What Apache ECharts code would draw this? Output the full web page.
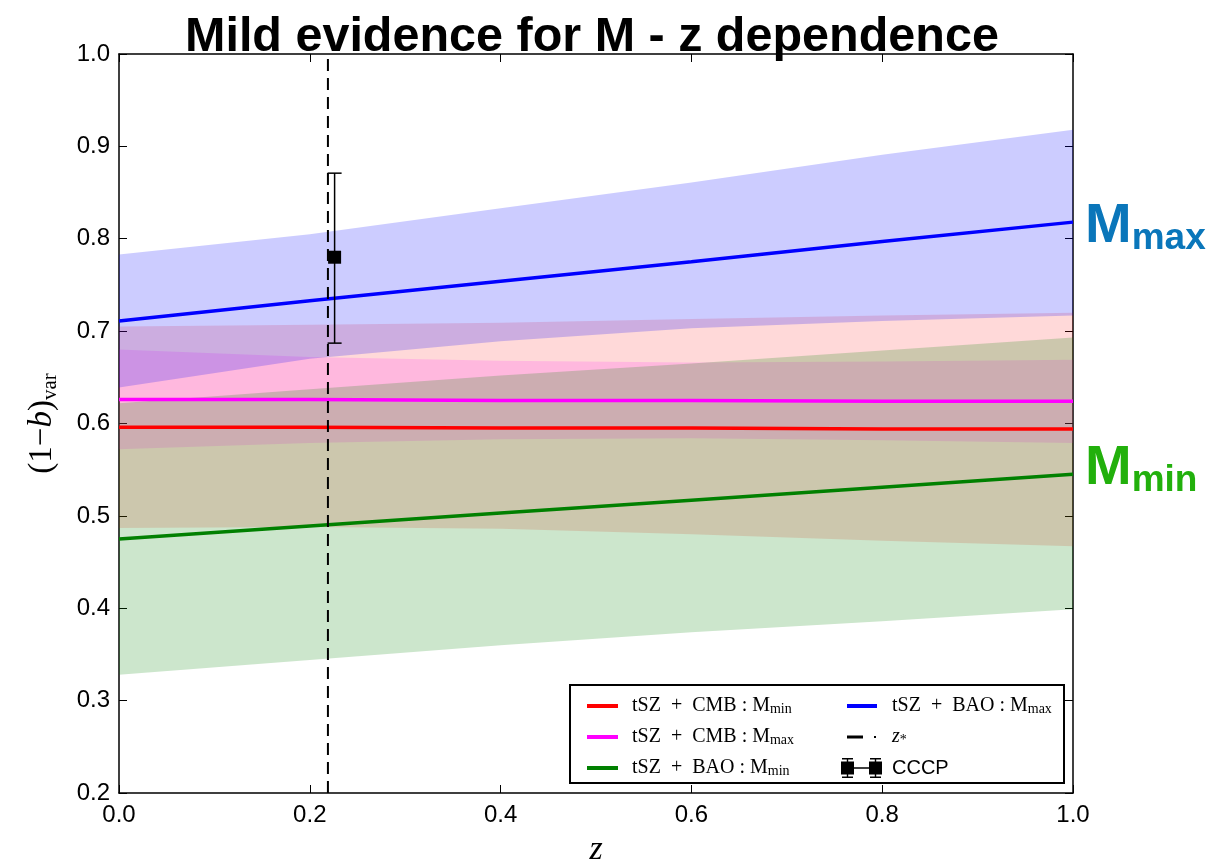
<!DOCTYPE html>
<html>
<head>
<meta charset="utf-8">
<script src="https://cdn.jsdelivr.net/npm/echarts@6/dist/echarts.min.js"></script>
<style>html,body{margin:0;padding:0;background:#fff}#c{width:1230px;height:864px}</style>
</head>
<body>
<div id="c"></div>
<script>
// ---- data ----
const zs = [0, 0.2, 0.4, 0.6, 0.8, 1.0];
// central lines
const redLine   = [0.596, 0.596, 0.595, 0.595, 0.594, 0.594];
const magLine   = [0.626, 0.626, 0.625, 0.625, 0.624, 0.624];
const greenLine = [0.475, 0.489, 0.503, 0.517, 0.531, 0.545];
const blueLine  = [0.711, 0.733, 0.754, 0.775, 0.797, 0.818];
// bands
const redHi   = [0.705, 0.707, 0.709, 0.713, 0.717, 0.720];
const redLo   = [0.487, 0.488, 0.486, 0.480, 0.473, 0.467];
const magHi   = [0.680, 0.672, 0.668, 0.666, 0.667, 0.669];
const magLo   = [0.572, 0.579, 0.583, 0.584, 0.582, 0.579];
const greenHi = [0.622, 0.637, 0.652, 0.665, 0.679, 0.693];
const greenLo = [0.328, 0.344, 0.360, 0.374, 0.386, 0.399];
const blueHi  = [0.783, 0.805, 0.833, 0.861, 0.891, 0.918];
const blueLo  = [0.639, 0.670, 0.689, 0.703, 0.711, 0.717];
// z* marker and CCCP point
const zStar = 0.219;
const cccpZ = [0.226];
const cccpV = [0.780];
const cccpLo = [0.687];
const cccpHi = [0.871];
const xTicks = [0, 0.2, 0.4, 0.6, 0.8, 1.0];
const yTicks = [0.2, 0.3, 0.4, 0.5, 0.6, 0.7, 0.8, 0.9, 1.0];

const labels = {
  r: '{sp| }{t|tSZ  +  CMB : M}{s|min}',
  m: '{sp| }{t|tSZ  +  CMB : M}{s|max}',
  g: '{sp| }{t|tSZ  +  BAO : M}{s|min}',
  b: '{sp| }{t|tSZ  +  BAO : M}{s|max}',
  zs: '{sp| }{i|z}{s2|*}',
  cccp: '{sp| }{c|CCCP}'
};

function pairs(ys){ return zs.map((z,i)=>[z, ys[i]]); }

function band(name, hi, lo, fill){
  return {
    type:'custom', name:name, silent:true, z:1,
    data:[[0.5,0.5]],
    renderItem:function(params, api){
      const pts=[];
      for(let i=0;i<zs.length;i++) pts.push(api.coord([zs[i], hi[i]]));
      for(let i=zs.length-1;i>=0;i--) pts.push(api.coord([zs[i], lo[i]]));
      return {type:'polygon', shape:{points:pts}, style:{fill:fill}};
    }
  };
}
function line(name, ys, color, w){
  return {type:'line', name:name, data:pairs(ys), symbol:'none', z:3,
    color:color, lineStyle:{color:color, width:w}, silent:true};
}

const richLegend = {
  sp:{width:9},
  t:{fontFamily:'Liberation Serif', fontSize:20, color:'#000', lineHeight:20},
  s:{fontFamily:'Liberation Serif', fontSize:14, color:'#000', verticalAlign:'bottom'},
  i:{fontFamily:'Liberation Serif', fontStyle:'italic', fontSize:20, color:'#000', lineHeight:20},
  s2:{fontFamily:'Liberation Serif', fontSize:14, color:'#000', verticalAlign:'bottom'},
  c:{fontFamily:'Liberation Sans', fontSize:20, color:'#000', lineHeight:20}
};

const axisCommon = {
  type:'value', min:0, max:1, interval:0.2,
  axisLine:{show:true, onZero:false, lineStyle:{color:'#000', width:1.5}},
  axisTick:{show:true, inside:true, length:8, lineStyle:{color:'#000', width:1}},
  splitLine:{show:false}
};
const yCommon = {
  type:'value', min:0.2, max:1.0, interval:0.1,
  axisLine:{show:true, onZero:false, lineStyle:{color:'#000', width:1.5}},
  axisTick:{show:true, inside:true, length:8, lineStyle:{color:'#000', width:1}},
  splitLine:{show:false}
};

const chart = echarts.init(document.getElementById('c'), null, {renderer:'canvas'});
chart.setOption({
  animation:false,
  backgroundColor:'#fff',
  title:{
    text:'Mild evidence for M - z dependence',
    left:180, top:8,
    textStyle:{fontFamily:'Liberation Sans', fontWeight:'bold', fontSize:48.5, color:'#000'}
  },
  grid:{left:119, right:157, top:54, bottom:71, containLabel:false, outerBoundsMode:'none'},
  xAxis:[
    Object.assign({}, axisCommon, {
      position:'bottom',
      axisLabel:{show:true, color:'#000', fontFamily:'Liberation Sans', fontSize:24, margin:10,
        showMinLabel:true, showMaxLabel:true, formatter:v=>v.toFixed(1)},
      name:'z', nameLocation:'middle', nameGap:40,
      nameTextStyle:{fontFamily:'Liberation Serif', fontStyle:'italic', fontSize:34, color:'#000'}
    }),
    Object.assign({}, axisCommon, {position:'top', axisLabel:{show:false}})
  ],
  yAxis:[
    Object.assign({}, yCommon, {
      position:'left',
      axisLabel:{show:true, color:'#000', fontFamily:'Liberation Sans', fontSize:24, margin:9,
        showMinLabel:true, showMaxLabel:true, formatter:v=>v.toFixed(1)},
      name:'{p|(1−}{i|b}{p|)}{s|var}', nameLocation:'middle', nameGap:58, nameRotate:90,
      nameTextStyle:{rich:{
        p:{fontFamily:'Liberation Serif', fontSize:33, color:'#000', lineHeight:38},
        i:{fontFamily:'Liberation Serif', fontStyle:'italic', fontSize:33, color:'#000', lineHeight:38},
        s:{fontFamily:'Liberation Serif', fontSize:21, color:'#000', verticalAlign:'bottom'}
      }}
    }),
    Object.assign({}, yCommon, {position:'right', axisLabel:{show:false}})
  ],
  legend:[
    {
      z:100, left:582, top:691, orient:'vertical', icon:'rect',
      itemWidth:31, itemHeight:4, itemGap:11,
      itemStyle:{borderWidth:0},
      data:['r','m','g'],
      formatter:n=>labels[n],
      textStyle:{rich:richLegend, lineHeight:20},
      selectedMode:false
    },
    {
      z:100, left:836, top:691, orient:'vertical',
      itemWidth:41, itemHeight:20, itemGap:11,
      itemStyle:{borderWidth:0},
      data:[
        {name:'b', icon:'path://M0,0 M41,20 M6,8 H36 V12 H6 Z'},
        {name:'zs', icon:'path://M0,0 M41,20 M6,8.5 H22 V11.5 H6 Z M33,9 H35 V11 H33 Z', itemStyle:{color:'#000'}},
        {name:'cccp', icon:'path://M0,0 M41,20 M0,3.5 H13 V16.5 H0 Z M28,3.5 H41 V16.5 H28 Z M13,9.3 H28 V10.7 H13 Z M5.8,0 H7.2 V20 H5.8 Z M33.8,0 H35.2 V20 H33.8 Z M1,0 H12 V1.5 H1 Z M1,18.5 H12 V20 H1 Z M29,0 H40 V1.5 H29 Z M29,18.5 H40 V20 H29 Z', itemStyle:{color:'#000'}}
      ],
      formatter:n=>labels[n],
      textStyle:{rich:Object.assign({}, richLegend, {sp:{width:5}}), lineHeight:20},
      selectedMode:false
    }
  ],
  graphic:[
    {type:'rect', z:50, shape:{x:570, y:685, width:494, height:98},
      style:{fill:'#fff', stroke:'#000', lineWidth:2}},
    {type:'text', z:50, left:1085, top:199,
      style:{rich:{
        M:{fontFamily:'Liberation Sans', fontWeight:'bold', fontSize:56, fill:'#0a76ba', lineHeight:60},
        s:{fontFamily:'Liberation Sans', fontWeight:'bold', fontSize:37, fill:'#0a76ba', verticalAlign:'bottom'}
      }, text:'{M|M}{s|max}'}},
    {type:'text', z:50, left:1085, top:441,
      style:{rich:{
        M:{fontFamily:'Liberation Sans', fontWeight:'bold', fontSize:56, fill:'#22b00c', lineHeight:60},
        s:{fontFamily:'Liberation Sans', fontWeight:'bold', fontSize:37, fill:'#22b00c', verticalAlign:'bottom'}
      }, text:'{M|M}{s|min}'}}
  ],
  series:[
    band('redBand', redHi, redLo, 'rgba(255,0,0,0.15)'),
    band('magBand', magHi, magLo, 'rgba(255,0,255,0.15)'),
    band('greenBand', greenHi, greenLo, 'rgba(0,128,0,0.2)'),
    band('blueBand', blueHi, blueLo, 'rgba(0,0,255,0.2)'),
    line('r', redLine, '#ff0000', 3.5),
    line('m', magLine, '#ff00ff', 3.5),
    line('g', greenLine, '#008000', 3.5),
    line('b', blueLine, '#0000ff', 3.5),
    {type:'line', name:'zs', data:[[zStar, yTicks[0]], [zStar, yTicks[yTicks.length-1]]],
      symbol:'none', z:4, color:'#000', silent:true,
      lineStyle:{color:'#000', width:2, type:[12,7]}},
    {type:'custom', name:'cccp', z:5, silent:true,
      itemStyle:{color:'#000'},
      encode:{x:0, y:[1,2,3]},
      data:cccpZ.map((z,i)=>[z, cccpV[i], cccpLo[i], cccpHi[i]]),
      renderItem:function(params, api){
        const x=api.value(0), y=api.value(1), lo=api.value(2), hi=api.value(3);
        const pT=api.coord([x,hi]), pB=api.coord([x,lo]), pC=api.coord([x,y]);
        const cap=7, st={stroke:'#000', lineWidth:1.5};
        return {type:'group', children:[
          {type:'line', shape:{x1:pT[0], y1:pT[1], x2:pB[0], y2:pB[1]}, style:st},
          {type:'line', shape:{x1:pT[0]-cap, y1:pT[1], x2:pT[0]+cap, y2:pT[1]}, style:st},
          {type:'line', shape:{x1:pB[0]-cap, y1:pB[1], x2:pB[0]+cap, y2:pB[1]}, style:st},
          {type:'rect', shape:{x:pC[0]-6.5, y:pC[1]-6.5, width:13, height:13}, style:{fill:'#000'}}
        ]};
      }
    }
  ]
});
</script>
</body>
</html>
